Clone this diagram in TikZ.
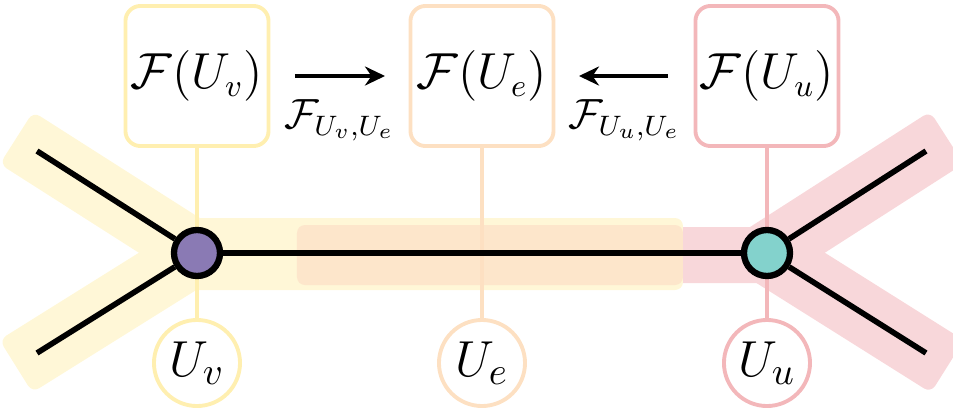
\documentclass[tikz,border=0pt]{standalone}
\usepackage{amsmath}
\usepackage{amssymb}
\usepackage{tikz}
\usetikzlibrary{positioning,arrows.meta,calc,backgrounds}
\definecolor{yelline}{HTML}{FFEFB0}
\definecolor{yelband}{HTML}{FFF7D7}
\definecolor{orgline}{HTML}{FDE0C2}
\definecolor{orgband}{HTML}{FDE6CB}
\definecolor{pnkline}{HTML}{F3B7BA}
\definecolor{pnkband}{HTML}{F8D7DA}
\definecolor{vcol}{HTML}{8A7AB4}
\definecolor{ucol}{HTML}{83D2CC}

\begin{document}
\begin{tikzpicture}[font=\fontsize{13.5}{16}\selectfont,>=Stealth,x=0.01cm,y=0.01cm,
  fbox/.style={draw=#1,fill=white,rounded corners=0.15cm,line width=1.1pt,minimum width=1.43cm,minimum height=1.40cm,inner sep=0pt},
  ubox/.style={draw=#1,fill=white,circle,line width=1.1pt,minimum size=0.86cm,inner sep=0pt,font=\fontsize{15}{18}\selectfont},
  vert/.style={draw,circle,line width=1.8pt,minimum size=0.46cm,inner sep=0pt},
  link/.style={line width=1.1pt},
  edge/.style={line width=1.6pt},
  restr/.style={->,line width=1.1pt,>={Stealth[length=0.2cm,width=0.19cm]}},
  lbl/.style={below=0.22cm,inner sep=0pt,font=\fontsize{12}{14}\selectfont},
  diagband/.style={rectangle,rounded corners=0.08cm,minimum width=2.27cm,minimum height=0.62cm,inner sep=0pt}]
  \useasboundingbox (0,0) rectangle (953,414);
  % ---------------- sections and open sets ----------------
  \node[fbox=yelline] (Fv) at (197,338) {$\mathcal{F}(U_v)$};
  \node[fbox=orgline] (Fe) at (482,338) {$\mathcal{F}(U_e)$};
  \node[fbox=pnkline] (Fu) at (767,338) {$\mathcal{F}(U_u)$};
  \node[ubox=yelline] (Uv) at (197,51) {$U_v$};
  \node[ubox=orgline] (Ue) at (482,51) {$U_e$};
  \node[ubox=pnkline] (Uu) at (767,51) {$U_u$};
  \draw[link,yelline] (Fv) -- (Uv);
  \draw[link,orgline] (Fe) -- (Ue);
  \draw[link,pnkline] (Fu) -- (Uu);
  % restriction maps
  \draw[restr,shorten <=0.245cm,shorten >=0.235cm] (Fv) -- node[lbl] (rv) {$\mathcal{F}_{U_v,U_e}$} (Fe);
  \draw[restr,shorten <=0.255cm,shorten >=0.235cm] (Fu) -- node[lbl] (ru) {$\mathcal{F}_{U_u,U_e}$} (Fe);
  % ---------------- graph ----------------
  \node[vert,fill=vcol] (v) at (197,161) {};
  \node[vert,fill=ucol] (u) at (767,161) {};
  \coordinate (a1) at (37,263);
  \coordinate (a2) at (37,61);
  \coordinate (b1) at (926,263);
  \coordinate (b2) at (926,61);
  \draw[edge] (v) -- (u);
  \draw[edge] (v) -- (a1);
  \draw[edge] (v) -- (a2);
  \draw[edge] (u) -- (b1);
  \draw[edge] (u) -- (b2);
  % ---------------- neighbourhoods ----------------
  \begin{scope}[on background layer]
    \foreach \p/\q/\c in {v/a1/yelband, v/a2/yelband, u/b1/pnkband, u/b2/pnkband}
      \path (\p.center) -- (\q) node[diagband,fill=\c,sloped,pos=0.53] (band-\q) {};
    \fill[pnkband,rounded corners=0.08cm] (650,131) rectangle (787,187);
    \fill[yelband,rounded corners=0.08cm] (167,124) rectangle (683,196);
    \fill[orgband,rounded corners=0.08cm] (297,129) rectangle (683,189);
  \end{scope}
\end{tikzpicture}
\end{document}
